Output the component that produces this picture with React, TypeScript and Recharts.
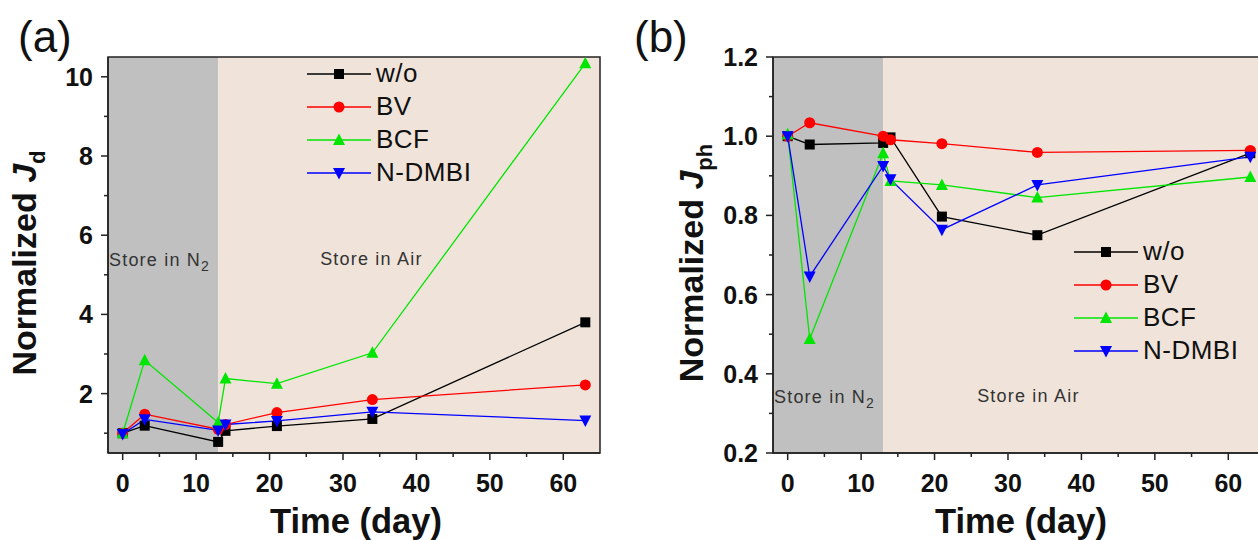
import React from 'react'
import { LineChart, Line, XAxis, YAxis, ReferenceArea, Legend, Label } from 'recharts'

// storage time (days)
const days = [0, 3, 13, 14, 21, 34, 63]

// (a) normalized dark current
const jdWo = [1.0, 1.19, 0.78, 1.06, 1.18, 1.36, 3.8]
const jdBV = [1.0, 1.48, 1.1, 1.22, 1.52, 1.85, 2.22]
const jdBCF = [1.0, 2.84, 1.27, 2.38, 2.25, 3.03, 10.34]
const jdND = [0.98, 1.35, 1.07, 1.22, 1.31, 1.54, 1.32]

// (b) normalized photocurrent
const jphWo = [1.0, 0.979, 0.983, 0.997, 0.797, 0.75, 0.957]
const jphBV = [1.0, 1.034, 1.0, 0.991, 0.981, 0.959, 0.964]
const jphBCF = [1.005, 0.488, 0.957, 0.887, 0.877, 0.845, 0.897]
const jphND = [1.0, 0.646, 0.925, 0.891, 0.764, 0.877, 0.948]

const names = ['w/o', 'BV', 'BCF', 'N-DMBI']
const keys = ['wo', 'bv', 'bcf', 'nd']
const colors = ['#000000', '#ff0000', '#00e600', '#0000ff']
const shapes = ['square', 'circle', 'up', 'down']

const xMajor = [0, 10, 20, 30, 40, 50, 60]
const xMinor = [5, 15, 25, 35, 45, 55]
const jdMajor = [2, 4, 6, 8, 10]
const jdMinor = [1, 3, 5, 7, 9]
const jphMajor = [0.2, 0.4, 0.6, 0.8, 1.0, 1.2]
const jphMinor = [0.3, 0.5, 0.7, 0.9, 1.1]

const buildRows = (cols: number[][]) =>
  days.map((d, i) => ({ day: d, wo: cols[0][i], bv: cols[1][i], bcf: cols[2][i], nd: cols[3][i] }))

const jdData = buildRows([jdWo, jdBV, jdBCF, jdND])
const jphData = buildRows([jphWo, jphBV, jphBCF, jphND])

const FONT = '"Liberation Sans", Arial, sans-serif'
const W = 620
const H = 540
const PLOT_LEFT = 108
const PLOT_BOTTOM = 453
const PLOT_TOP = 57

function Marker({ cx, cy, shape, color }: any) {
  if (cx == null || cy == null) return null
  if (shape === 'square') return <rect x={cx - 5} y={cy - 5} width={10} height={10} fill={color} />
  if (shape === 'circle') return <circle cx={cx} cy={cy} r={5.5} fill={color} />
  if (shape === 'up')
    return <polygon points={`${cx},${cy - 6.5} ${cx - 6},${cy + 5} ${cx + 6},${cy + 5}`} fill={color} />
  return <polygon points={`${cx},${cy + 6.5} ${cx - 6},${cy - 5} ${cx + 6},${cy - 5}`} fill={color} />
}

const makeYTick = (majors: number[], digits: number) => (props: any) => {
  const { y, payload } = props
  const isMajor = majors.some(m => Math.abs(m - payload.value) < 1e-6)
  return (
    <g>
      <line x1={PLOT_LEFT - (isMajor ? 7 : 4)} x2={PLOT_LEFT} y1={y} y2={y} stroke="#222" strokeWidth={1.5} />
      {isMajor && (
        <text x={PLOT_LEFT - 15} y={y} textAnchor="end" dominantBaseline="central"
          fontFamily={FONT} fontWeight="bold" fontSize={25} fill="#111">
          {payload.value.toFixed(digits)}
        </text>
      )}
    </g>
  )
}

const xTick = (props: any) => {
  const { x, payload } = props
  const isMajor = xMajor.includes(payload.value)
  return (
    <g>
      <line x1={x} x2={x} y1={PLOT_BOTTOM} y2={PLOT_BOTTOM + (isMajor ? 7 : 4)} stroke="#222" strokeWidth={1.5} />
      {isMajor && (
        <text x={x} y={PLOT_BOTTOM + 30} textAnchor="middle" dominantBaseline="central"
          fontFamily={FONT} fontWeight="bold" fontSize={25} fill="#111">
          {payload.value}
        </text>
      )}
    </g>
  )
}

const regionLabel = (text: string, sub: string, dx: number, y: number) => (props: any) => {
  const vb = props.viewBox || {}
  return (
    <text x={(vb.x || 0) + dx} y={y} dominantBaseline="central" fontFamily={FONT}
      fontSize={18} letterSpacing={1.2} fill="#333">
      {text}
      {sub && <tspan dy={6} fontSize={14}>{sub}</tspan>}
    </text>
  )
}

function LegendBox() {
  return (
    <div style={{ fontFamily: FONT, fontSize: 26, color: '#111' }}>
      {names.map((n, i) => (
        <div key={n} style={{ display: 'flex', alignItems: 'center', height: 33 }}>
          <svg width={64} height={20} style={{ marginRight: 5 }}>
            <line x1={0} x2={64} y1={10} y2={10} stroke={colors[i]} strokeWidth={1.5} />
            <Marker cx={32} cy={10} shape={shapes[i]} color={colors[i]} />
          </svg>
          <span style={{ letterSpacing: 0.5 }}>{n}</span>
        </div>
      ))}
    </div>
  )
}

interface PanelProps {
  data: any[]
  yDomain: [number, number]
  yTicks: number[]
  yMajor: number[]
  digits: number
  ySub: string
  titleX: number
  n2LabelY: number
  airLabelY: number
  airDx: number
  legendLeft: number
  legendTop: number
}

function Panel(p: PanelProps) {
  const yTitle = () => (
    <text transform={`translate(${p.titleX},${(PLOT_TOP + PLOT_BOTTOM) / 2 + 8}) rotate(-90)`}
      textAnchor="middle" fontFamily={FONT} fontWeight="bold" fontSize={34} fill="#111">
      Normalized <tspan fontStyle="italic">J</tspan>
      <tspan dy={9} fontSize={22}>{p.ySub}</tspan>
    </text>
  )
  const xTitle = () => (
    <text x={PLOT_LEFT + 248} y={521} textAnchor="middle" dominantBaseline="central"
      fontFamily={FONT} fontWeight="bold" fontSize={34.5} fill="#111">
      Time (day)
    </text>
  )
  return (
    <LineChart width={W} height={H} data={p.data} margin={{ top: PLOT_TOP, right: 20, bottom: 0, left: 0 }}>
      <ReferenceArea x1={-2} x2={13} y1={p.yDomain[0]} y2={p.yDomain[1]} fill="#c0c0c0" fillOpacity={1}
        stroke="none" label={{ content: regionLabel('Store in N', '2', 1, p.n2LabelY) }} />
      <ReferenceArea x1={13} x2={65} y1={p.yDomain[0]} y2={p.yDomain[1]} fill="#f0e4da" fillOpacity={1}
        stroke="none" label={{ content: regionLabel('Store in Air', '', p.airDx, p.airLabelY) }} />
      <ReferenceArea x1={-2} x2={65} y1={p.yDomain[0]} y2={p.yDomain[1]} fill="none"
        stroke="#222" strokeWidth={1.5} />
      <XAxis dataKey="day" type="number" domain={[-2, 65]} ticks={[...xMajor, ...xMinor]} interval={0}
        height={H - PLOT_BOTTOM} tick={xTick} tickLine={false} axisLine={{ stroke: '#222', strokeWidth: 1.5 }}>
        <Label content={xTitle} />
      </XAxis>
      <YAxis type="number" domain={p.yDomain} ticks={p.yTicks} interval={0} width={PLOT_LEFT}
        tick={makeYTick(p.yMajor, p.digits)} tickLine={false} axisLine={{ stroke: '#222', strokeWidth: 1.5 }}
        allowDataOverflow>
        <Label content={yTitle} />
      </YAxis>
      <Legend layout="vertical" align="center" verticalAlign="middle" content={() => <LegendBox />}
        wrapperStyle={{ left: p.legendLeft, top: p.legendTop, width: 220 }} />
      {keys.map((k, i) => (
        <Line key={k} dataKey={k} name={names[i]} stroke={colors[i]} strokeWidth={1.3}
          isAnimationActive={false}
          dot={(d: any) => <Marker key={`${k}-${d.index}`} cx={d.cx} cy={d.cy} shape={shapes[i]} color={colors[i]} />}
          activeDot={false} />
      ))}
    </LineChart>
  )
}

export default function App() {
  return (
    <div style={{ position: 'absolute', left: 0, top: 0, width: 1258, height: 540, overflow: 'hidden', background: '#fff' }}>
      <div style={{ position: 'absolute', left: 0, top: 0 }}>
        <Panel data={jdData} yDomain={[0.5, 10.5]} yTicks={[...jdMajor, ...jdMinor]} yMajor={jdMajor} digits={0}
          ySub="d" titleX={36} n2LabelY={260} airLabelY={259} airDx={102} legendLeft={307} legendTop={57} />
      </div>
      <div style={{ position: 'absolute', left: 665, top: 0 }}>
        <Panel data={jphData} yDomain={[0.2, 1.2]} yTicks={[...jphMajor, ...jphMinor]} yMajor={jphMajor} digits={1}
          ySub="ph" titleX={38} n2LabelY={397} airLabelY={396} airDx={94} legendLeft={409} legendTop={235} />
      </div>
      <div style={{ position: 'absolute', left: 18, top: 15, fontFamily: FONT, fontSize: 44, color: '#111', lineHeight: 1 }}>(a)</div>
      <div style={{ position: 'absolute', left: 634, top: 15, fontFamily: FONT, fontSize: 44, color: '#111', lineHeight: 1 }}>(b)</div>
    </div>
  )
}
